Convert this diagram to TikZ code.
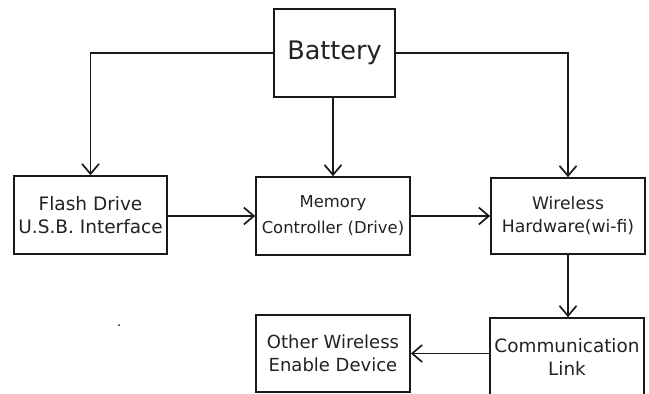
\documentclass[tikz,border=0pt]{standalone}
\usepackage{fontspec}
\setmainfont{DejaVu Sans}
\usetikzlibrary{arrows.meta}
\definecolor{txt}{HTML}{222222}
\definecolor{ln}{HTML}{1A1A1A}
\tikzset{
  box/.style={draw=ln, line width=1.7pt, rectangle, inner sep=0pt, align=center, text=txt,
              font=\fontsize{18}{23}\selectfont},
  conn/.style={draw=ln, line width=1.7pt, -{Straight Barb[length=10pt,width=17pt]}},
  plain/.style={draw=ln, line width=1.7pt}
}
\begin{document}
\begin{tikzpicture}[x=1pt,y=-1pt]
\useasboundingbox[fill=white] (0,0) rectangle (649,394);
\node[box, minimum width=121, minimum height=88, font=\fontsize{25.5}{30}\selectfont] (bat) at (334.5,53) {Battery};
\node[box, minimum width=153, minimum height=78, font=\fontsize{18.5}{22.5}\selectfont] (flash) at (90.5,215) {Flash Drive\\U.S.B. Interface};
\node[box, minimum width=154, minimum height=78, font=\fontsize{16.4}{26}\selectfont] (mem) at (333,216) {Memory\\Controller (Drive)};
\node[box, minimum width=154, minimum height=76, font=\fontsize{17.2}{23}\selectfont] (wl) at (568,216) {Wireless\\Hardware(wi-fi)};
\node[box, minimum width=154, minimum height=77] (other) at (333,353.5) {Other Wireless\\Enable Device};
\node[box, minimum width=154, minimum height=78, font=\fontsize{18.4}{23}\selectfont] (comm) at (567,357) {Communication\\Link};
\draw[conn] (bat.west) -| (flash.north);
\draw[conn] (mem.north |- bat.south) -- (mem.north);
\draw[conn] (bat.east) -| (wl.north);
\draw[conn] (flash.east |- mem.west) -- (mem.west);
\draw[conn] (mem.east) -- (wl.west);
\draw[conn] (wl.south) -- (wl.south |- comm.north);
\draw[conn] (comm.west |- other.east) -- (other.east);
\fill[ln] (119,325) circle (1pt);
\end{tikzpicture}
\end{document}
